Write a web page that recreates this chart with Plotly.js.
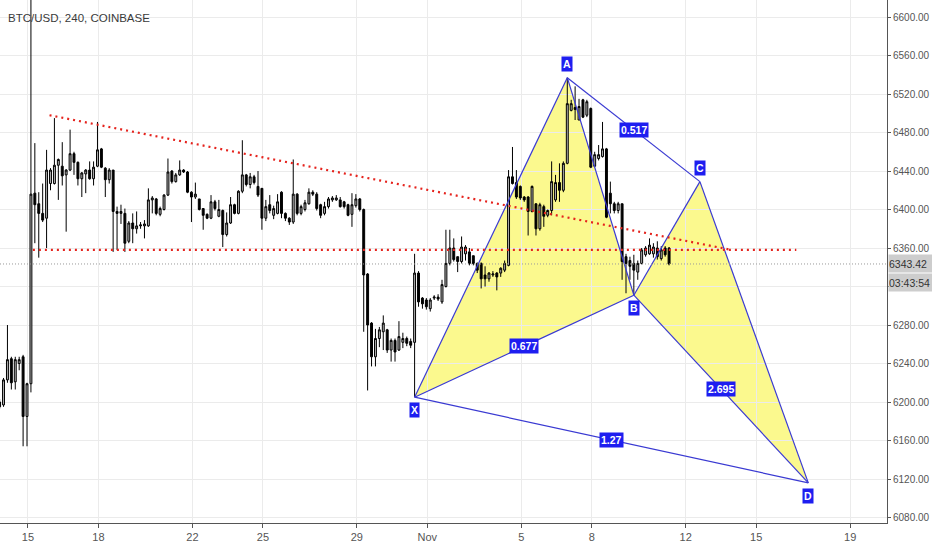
<!DOCTYPE html>
<html><head><meta charset="utf-8">
<script src="https://cdn.plot.ly/plotly-3.0.1.min.js"></script>
<style>html,body{margin:0;padding:0;background:#fff}#chart{width:932px;height:550px}</style>
</head><body><div id="chart"></div>
<script>
const chartTitle = "BTC/USD, 240, COINBASE";
const barTime = [
"2018-10-13 19:00","2018-10-13 23:00",
"2018-10-14 03:00","2018-10-14 07:00","2018-10-14 11:00","2018-10-14 15:00","2018-10-14 19:00","2018-10-14 23:00",
"2018-10-15 03:00","2018-10-15 07:00","2018-10-15 11:00","2018-10-15 15:00","2018-10-15 19:00","2018-10-15 23:00",
"2018-10-16 03:00","2018-10-16 07:00","2018-10-16 11:00","2018-10-16 15:00","2018-10-16 19:00","2018-10-16 23:00",
"2018-10-17 03:00","2018-10-17 07:00","2018-10-17 11:00","2018-10-17 15:00","2018-10-17 19:00","2018-10-17 23:00",
"2018-10-18 03:00","2018-10-18 07:00","2018-10-18 11:00","2018-10-18 15:00","2018-10-18 19:00","2018-10-18 23:00",
"2018-10-19 03:00","2018-10-19 07:00","2018-10-19 11:00","2018-10-19 15:00","2018-10-19 19:00","2018-10-19 23:00",
"2018-10-20 03:00","2018-10-20 07:00","2018-10-20 11:00","2018-10-20 15:00","2018-10-20 19:00","2018-10-20 23:00",
"2018-10-21 03:00","2018-10-21 07:00","2018-10-21 11:00","2018-10-21 15:00","2018-10-21 19:00","2018-10-21 23:00",
"2018-10-22 03:00","2018-10-22 07:00","2018-10-22 11:00","2018-10-22 15:00","2018-10-22 19:00","2018-10-22 23:00",
"2018-10-23 03:00","2018-10-23 07:00","2018-10-23 11:00","2018-10-23 15:00","2018-10-23 19:00","2018-10-23 23:00",
"2018-10-24 03:00","2018-10-24 07:00","2018-10-24 11:00","2018-10-24 15:00","2018-10-24 19:00","2018-10-24 23:00",
"2018-10-25 03:00","2018-10-25 07:00","2018-10-25 11:00","2018-10-25 15:00","2018-10-25 19:00","2018-10-25 23:00",
"2018-10-26 03:00","2018-10-26 07:00","2018-10-26 11:00","2018-10-26 15:00","2018-10-26 19:00","2018-10-26 23:00",
"2018-10-27 03:00","2018-10-27 07:00","2018-10-27 11:00","2018-10-27 15:00","2018-10-27 19:00","2018-10-27 23:00",
"2018-10-28 03:00","2018-10-28 07:00","2018-10-28 11:00","2018-10-28 15:00","2018-10-28 19:00","2018-10-28 23:00",
"2018-10-29 03:00","2018-10-29 07:00","2018-10-29 11:00","2018-10-29 15:00","2018-10-29 19:00","2018-10-29 23:00",
"2018-10-30 03:00","2018-10-30 07:00","2018-10-30 11:00","2018-10-30 15:00","2018-10-30 19:00","2018-10-30 23:00",
"2018-10-31 03:00","2018-10-31 07:00","2018-10-31 11:00","2018-10-31 15:00","2018-10-31 19:00","2018-10-31 23:00",
"2018-11-01 03:00","2018-11-01 07:00","2018-11-01 11:00","2018-11-01 15:00","2018-11-01 19:00","2018-11-01 23:00",
"2018-11-02 03:00","2018-11-02 07:00","2018-11-02 11:00","2018-11-02 15:00","2018-11-02 19:00","2018-11-02 23:00",
"2018-11-03 03:00","2018-11-03 07:00","2018-11-03 11:00","2018-11-03 15:00","2018-11-03 19:00","2018-11-03 23:00",
"2018-11-04 03:00","2018-11-04 07:00","2018-11-04 11:00","2018-11-04 15:00","2018-11-04 19:00","2018-11-04 23:00",
"2018-11-05 03:00","2018-11-05 07:00","2018-11-05 11:00","2018-11-05 15:00","2018-11-05 19:00","2018-11-05 23:00",
"2018-11-06 03:00","2018-11-06 07:00","2018-11-06 11:00","2018-11-06 15:00","2018-11-06 19:00","2018-11-06 23:00",
"2018-11-07 03:00","2018-11-07 07:00","2018-11-07 11:00","2018-11-07 15:00","2018-11-07 19:00","2018-11-07 23:00",
"2018-11-08 03:00","2018-11-08 07:00","2018-11-08 11:00","2018-11-08 15:00","2018-11-08 19:00","2018-11-08 23:00",
"2018-11-09 03:00","2018-11-09 07:00","2018-11-09 11:00","2018-11-09 15:00","2018-11-09 19:00","2018-11-09 23:00",
"2018-11-10 03:00","2018-11-10 07:00","2018-11-10 11:00","2018-11-10 15:00","2018-11-10 19:00","2018-11-10 23:00",
"2018-11-11 03:00","2018-11-11 07:00"];
const openPrice = [
6200,6197,
6223,6245,6221,6240,6247,6185,
6219,6417,6406,6396,6391,6427,
6427,6446,6445,6436,6441,6458,
6449,6432,6437,6441,6432,6445,
6463,6443,6431,6441,6398,6396,
6396,6367,6386,6380,6383,6383,
6383,6410,6411,6395,6400,6415,
6440,6429,6436,6441,6439,6418,
6413,6411,6401,6395,6391,6408,
6393,6399,6374,6386,6405,6396,
6419,6436,6426,6434,6424,6422,
6391,6405,6394,6396,6418,6396,
6391,6387,6416,6396,6400,6406,
6418,6416,6405,6396,6403,6410,
6410,6410,6408,6405,6395,6404,
6411,6400,6333,6282,6247,6266,
6273,6275,6254,6264,6254,6262,
6266,6263,6262,6334,6308,6306,
6297,6308,6309,6304,6320,6344,
6360,6351,6346,6354,6356,6352,
6344,6344,6332,6328,6332,6334,
6334,6337,6342,6434,6428,6424,
6413,6413,6398,6406,6380,6403,
6394,6399,6410,6428,6420,6448,
6503,6506,6493,6514,6498,6505,
6445,6453,6455,6463,6417,6406,
6399,6406,6351,6347,6344,6335,
6344,6353,6354,6354,6360,6349,
6360,6360];
const highPrice = [
6203,6225,
6280,6247,6247,6247,6249,6220,
6720,6469,6418,6427,6462,6443,
6495,6453,6470,6442,6483,6460,
6450,6439,6442,6450,6450,6491,
6464,6444,6443,6441,6403,6405,
6401,6388,6396,6398,6387,6389,
6422,6414,6412,6403,6416,6453,
6441,6438,6451,6442,6440,6419,
6428,6411,6401,6396,6415,6410,
6410,6400,6397,6413,6406,6420,
6472,6437,6438,6436,6440,6422,
6410,6415,6404,6416,6419,6397,
6392,6452,6417,6405,6410,6422,
6420,6418,6406,6408,6413,6414,
6415,6413,6409,6406,6417,6416,
6412,6401,6334,6283,6276,6278,
6290,6276,6266,6266,6284,6272,
6268,6266,6354,6336,6309,6308,
6308,6311,6312,6327,6379,6379,
6370,6351,6372,6363,6360,6352,
6345,6345,6341,6335,6336,6335,
6340,6347,6441,6465,6441,6425,
6414,6414,6425,6406,6407,6405,
6400,6450,6436,6448,6450,6537,
6514,6528,6515,6515,6514,6506,
6460,6467,6491,6464,6429,6408,
6408,6406,6354,6351,6353,6347,
6360,6362,6370,6365,6367,6362,
6362,6361];
const lowPrice = [
6193,6195,
6220,6213,6213,6233,6154,6154,
6210,6365,6350,6387,6360,6420,
6426,6410,6425,6377,6440,6436,
6425,6413,6417,6431,6425,6444,
6443,6413,6427,6356,6358,6385,
6356,6365,6365,6375,6380,6370,
6382,6396,6394,6393,6399,6414,
6427,6428,6435,6438,6417,6387,
6411,6399,6379,6390,6390,6399,
6392,6361,6372,6385,6395,6395,
6417,6424,6422,6426,6413,6379,
6388,6396,6390,6395,6391,6388,
6384,6385,6394,6394,6398,6405,
6414,6399,6391,6394,6401,6408,
6409,6402,6401,6393,6382,6402,
6398,6273,6212,6237,6237,6257,
6254,6251,6242,6242,6253,6256,
6258,6256,6205,6299,6297,6296,
6294,6306,6305,6302,6319,6342,
6346,6335,6344,6347,6342,6342,
6334,6318,6320,6325,6330,6316,
6330,6335,6341,6426,6411,6410,
6408,6373,6397,6373,6378,6382,
6392,6394,6408,6408,6418,6447,
6502,6493,6493,6495,6496,6443,
6444,6451,6454,6391,6396,6396,
6396,6327,6313,6327,6311,6327,
6343,6351,6353,6350,6348,6347,
6351,6342];
const closePrice = [
6195,6223,
6244,6220,6244,6244,6185,6219,
6416,6405,6396,6389,6441,6441,
6446,6452,6435,6441,6458,6449,
6432,6438,6441,6432,6444,6462,
6444,6431,6441,6398,6396,6398,
6365,6386,6380,6383,6384,6385,
6410,6412,6396,6401,6415,6439,
6429,6436,6441,6439,6418,6413,
6416,6400,6394,6391,6408,6401,
6400,6374,6386,6405,6396,6419,
6436,6426,6434,6428,6415,6391,
6403,6399,6401,6408,6396,6391,
6387,6416,6396,6403,6407,6418,
6416,6401,6394,6403,6411,6412,
6412,6403,6403,6394,6405,6411,
6400,6332,6280,6247,6266,6275,
6282,6254,6264,6252,6268,6266,
6261,6259,6334,6304,6302,6299,
6306,6309,6307,6322,6344,6360,
6348,6346,6361,6361,6344,6344,
6337,6328,6328,6334,6333,6330,
6339,6344,6434,6427,6413,6412,
6410,6398,6424,6380,6405,6393,
6399,6429,6428,6420,6448,6510,
6510,6504,6507,6496,6512,6444,
6457,6457,6463,6392,6406,6399,
6406,6346,6344,6341,6337,6344,
6358,6360,6363,6361,6351,6358,
6353,6343.42];
const lastPrice = 6343.42;
const countdown = "03:43:54";
const dateTickValues = ["2018-10-15","2018-10-18","2018-10-22","2018-10-25","2018-10-29","2018-11-01","2018-11-05","2018-11-08","2018-11-12","2018-11-15","2018-11-19"];
const dateTickLabels = ["15","18","22","25","29","Nov","5","8","12","15","19"];
const priceTicks = [6080,6120,6160,6200,6240,6280,6320,6360,6400,6440,6480,6520,6560,6600];
const patternNames = ["X","A","B","C","D"];
const patternTimes = ["2018-10-31 11:00","2018-11-06 23:00","2018-11-09 19:00","2018-11-12 14:30","2018-11-17 05:15"];
const patternPrices = [6205,6537,6311,6429,6116];
// ratio labels: [from point, to point, text]
const ratioFrom = ["X","A","B","X"];
const ratioTo   = ["B","C","D","D"];
const ratioText = ["0.677","0.517","2.695","1.27"];
const supportTimes = ["2018-10-15 05:00","2018-11-16 17:00"];
const supportPrices = [6358,6358];
const trendTimes = ["2018-10-15 22:00","2018-11-13 23:00"];
const trendPrices = [6498,6358];

function ms(s){const [d,t]=s.split(' ');const [Y,M,D]=d.split('-').map(Number);const [h,m]=(t||'00:00').split(':').map(Number);return Date.UTC(Y,M-1,D,h,m);}
function fmt(v){const d=new Date(v);const p=n=>String(n).padStart(2,'0');return d.getUTCFullYear()+'-'+p(d.getUTCMonth()+1)+'-'+p(d.getUTCDate())+' '+p(d.getUTCHours())+':'+p(d.getUTCMinutes());}
const P = {}; patternNames.forEach((n,i)=>P[n]={t:patternTimes[i],p:patternPrices[i]});
const pt = n => P[n].t.replace(' ','_')+' '+P[n].p;

const BLUE_LINE = '#3a3ad2', BLUE_LABEL = '#1e1ef0', YELLOW = 'rgb(251,249,142)', RED = '#e5231d';
const FONT = 'Liberation Sans, Arial, sans-serif';

// y range and pixel scale (used to keep the countdown box from sitting on a tick label, as in the reference)
const yRange = [6074.3, 6617.7];
const plotH = 523;
const pxPerUnit = plotH / (yRange[1] - yRange[0]);
const countdownShift = -19;
const countdownPrice = lastPrice + countdownShift / pxPerUnit;
const priceTickText = priceTicks.map(v => Math.abs(v - countdownPrice) < 12 ? '' : v.toFixed(2));

const traces = [];
traces.push({type:'candlestick', x:barTime, open:openPrice, high:highPrice, low:lowPrice, close:closePrice,
  increasing:{line:{color:'#000',width:1}, fillcolor:'#b8b8b8'},
  decreasing:{line:{color:'#000',width:1}, fillcolor:'#000'},
  whiskerwidth:0, showlegend:false, hoverinfo:'skip'});

const legs = [["X","A"],["A","B"],["B","X"],["A","C"],["B","C"],["C","D"],["D","B"],["X","D"]];
const lx=[], ly=[];
legs.forEach(([a,b])=>{lx.push(P[a].t,P[b].t,null);ly.push(P[a].p,P[b].p,null);});
traces.push({type:'scatter',mode:'lines',x:lx,y:ly,line:{color:BLUE_LINE,width:1.2},showlegend:false,hoverinfo:'skip'});
traces.push({type:'scatter',mode:'lines',x:supportTimes,y:supportPrices,line:{color:RED,width:2.2,dash:'2px,4px'},showlegend:false,hoverinfo:'skip'});
traces.push({type:'scatter',mode:'lines',x:trendTimes,y:trendPrices,line:{color:RED,width:2.2,dash:'2px,4px'},showlegend:false,hoverinfo:'skip'});

const shapes = [
  {type:'path', xref:'x', yref:'y', layer:'below', path:'M '+pt('X')+' L '+pt('A')+' L '+pt('B')+' Z', fillcolor:YELLOW, line:{width:0}},
  {type:'path', xref:'x', yref:'y', layer:'below', path:'M '+pt('B')+' L '+pt('C')+' L '+pt('D')+' Z', fillcolor:YELLOW, line:{width:0}},
  {type:'line', xref:'paper', x0:0, x1:1, yref:'y', y0:lastPrice, y1:lastPrice, layer:'above', line:{color:'#9a9a9a', width:1, dash:'1px,2px'}}
];

const annotations = [];
annotations.push({text:chartTitle, xref:'paper', yref:'paper', x:0, y:1, xanchor:'left', yanchor:'top', xshift:6, yshift:-10, showarrow:false, font:{family:FONT,size:11.5,color:'#3a3a3a'}});
patternNames.forEach((n,i)=>{
  const prev = i>0 ? patternPrices[i-1] : patternPrices[i+1];
  const next = i<patternNames.length-1 ? patternPrices[i+1] : patternPrices[i-1];
  const peak = patternPrices[i] > prev && patternPrices[i] > next;
  annotations.push({text:'<b>'+n+'</b>', x:patternTimes[i], y:patternPrices[i], xref:'x', yref:'y', showarrow:false,
    yanchor: peak?'bottom':'top', yshift: peak?6:-5, bgcolor:BLUE_LABEL, borderpad:1,
    font:{family:FONT,size:10.5,color:'#fff'}});
});
ratioText.forEach((txt,i)=>{
  const a=P[ratioFrom[i]], b=P[ratioTo[i]];
  annotations.push({text:'<b>'+txt+'</b>', x:fmt((ms(a.t)+ms(b.t))/2), y:(a.p+b.p)/2, xref:'x', yref:'y', showarrow:false,
    bgcolor:BLUE_LABEL, borderpad:1, font:{family:FONT,size:10.5,color:'#fff'}});
});
annotations.push({text:lastPrice.toFixed(2), xref:'paper', x:1, xanchor:'left', xshift:1, yref:'y', y:lastPrice, showarrow:false,
  bgcolor:'#cdcdcd', width:43, height:17, align:'left', borderpad:0, font:{family:FONT,size:10.5,color:'#333'}});
annotations.push({text:countdown, xref:'paper', x:1, xanchor:'left', xshift:1, yref:'y', y:lastPrice, yshift:countdownShift, showarrow:false,
  bgcolor:'#cdcdcd', width:43, height:17, align:'left', borderpad:0, font:{family:FONT,size:10.5,color:'#333'}});

const layout = {
  width:932, height:550, margin:{l:0,r:45,t:0,b:27},
  paper_bgcolor:'#fff', plot_bgcolor:'#fff', showlegend:false,
  xaxis:{type:'date', range:['2018-10-13 19:24','2018-11-20 13:39'], tickvals:dateTickValues, ticktext:dateTickLabels,
    ticks:'outside', ticklen:4, tickcolor:'#555', showline:true, linecolor:'#555', linewidth:1,
    showgrid:true, gridcolor:'#ebebeb', gridwidth:1, zeroline:false, rangeslider:{visible:false}, fixedrange:true,
    tickfont:{family:FONT,size:11,color:'#555'}},
  yaxis:{side:'right', range:yRange, tickvals:priceTicks, ticktext:priceTickText,
    ticks:'outside', ticklen:3, tickcolor:'#555', showline:true, linecolor:'#555', linewidth:1,
    showgrid:true, gridcolor:'#ebebeb', gridwidth:1, zeroline:false, fixedrange:true, ticklabelstandoff:0,
    tickfont:{family:FONT,size:10,color:'#555'}},
  shapes:shapes, annotations:annotations
};
Plotly.newPlot('chart', traces, layout, {displayModeBar:false, staticPlot:true});
</script>
</body></html>
